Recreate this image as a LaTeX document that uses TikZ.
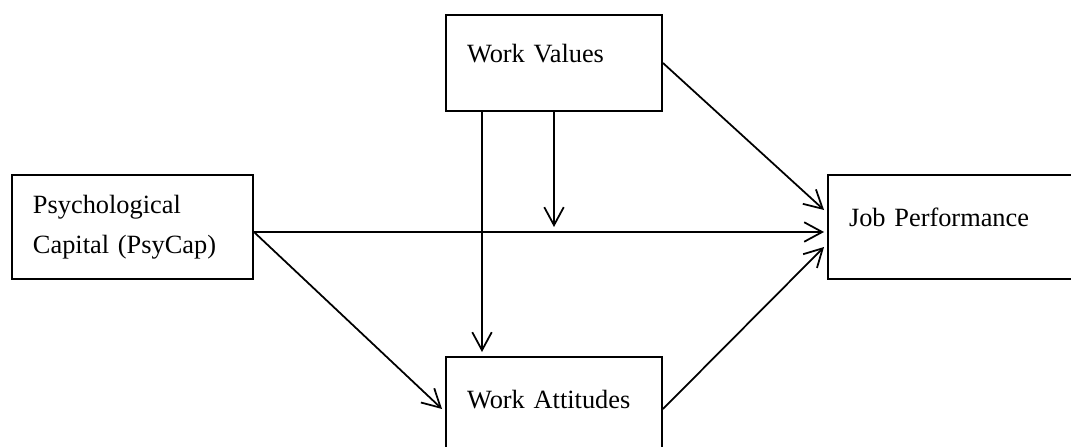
\documentclass[tikz,border=0pt]{standalone}
\usepackage{fontspec}
\setmainfont{Liberation Serif}
\usetikzlibrary{arrows.meta}

\begin{document}
\begin{tikzpicture}[node distance=8.43cm, every node/.style={align=left}]
        \tikzstyle{block}=[rectangle, draw, line width=1.1pt, inner xsep=0.42cm, minimum height=2.08cm, font=\fontsize{15}{23}\selectfont];
        \tikzstyle{single}=[text depth=0.38cm];
        \tikzstyle{edge}=[-{Straight Barb[length=3.6mm, width=3.9mm]}, line width=1pt];
        \useasboundingbox (-2.65,-4.38) rectangle (18.77,4.54);
        \node[block, text width=3.98cm] (psycap) {Psychological\\Capital (PsyCap)};
        \node[block, single, text width=3.48cm, minimum height=1.92cm, right of=psycap, yshift=3.28cm] (values) {Work Values};
        \node[block, single, text width=3.48cm, right of=psycap, yshift=-3.64cm] (attitudes) {Work Attitudes};
        \node[block, single, text width=4.10cm, right of=values, xshift=-0.48cm, yshift=-3.28cm] (perf) {Job Performance};
        \coordinate (meet) at (values.south |- psycap.east);
        \draw[edge] (values.east) -- ([yshift=0.34cm, xshift=-0.06cm]perf.west);
        \draw[edge] ([yshift=-0.1cm]psycap.east) -- ([yshift=-0.1cm, xshift=-0.06cm]perf.west);
        \draw[edge] ([yshift=-0.1cm]psycap.east) -- ([xshift=-0.06cm]attitudes.west);
        \draw[edge] (attitudes.east) -- ([yshift=-0.4cm, xshift=-0.06cm]perf.west);
        \draw[edge] ([xshift=-1.44cm]values.south) -- ([xshift=-1.44cm, yshift=0.08cm]attitudes.north);
        \draw[edge] (values.south) -- (meet);
    \end{tikzpicture}
\end{document}
